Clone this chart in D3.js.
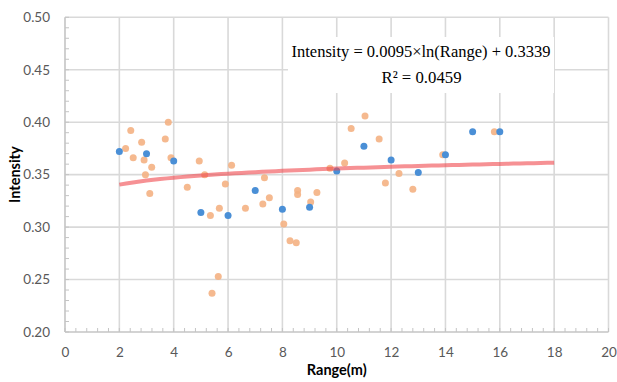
<!DOCTYPE html>
<html>
<head>
<meta charset="utf-8">
<script src="https://cdn.jsdelivr.net/npm/d3@7"></script>
<style>
  html, body { margin: 0; padding: 0; background: #fff; }
  svg { display: block; }
</style>
</head>
<body>
<svg id="chart" width="617" height="382"></svg>
<script>
// ---- data ----
const blueRange = [2, 3, 4, 5, 6, 7, 8, 9, 10, 11, 12, 13, 14, 15, 16];
const blueIntensity = [0.372, 0.370, 0.363, 0.314, 0.311, 0.335, 0.317, 0.319, 0.3535, 0.377, 0.364, 0.352, 0.369, 0.391, 0.391];

const orangeRange = [2.23, 2.42, 2.51, 2.82, 2.91, 2.96, 3.12, 3.19, 3.69, 3.80, 3.90, 4.50, 4.94, 5.14, 5.35, 5.41, 5.64, 5.68, 5.90, 6.13, 6.64, 7.28, 7.34, 7.52, 8.05, 8.28, 8.51, 8.56, 8.56, 9.04, 9.27, 9.75, 10.29, 10.53, 11.04, 11.56, 11.79, 12.29, 12.80, 13.90, 15.80];
const orangeIntensity = [0.375, 0.392, 0.366, 0.381, 0.364, 0.350, 0.332, 0.357, 0.384, 0.400, 0.366, 0.338, 0.363, 0.350, 0.311, 0.237, 0.253, 0.318, 0.341, 0.359, 0.318, 0.322, 0.347, 0.328, 0.303, 0.287, 0.285, 0.335, 0.331, 0.324, 0.333, 0.356, 0.361, 0.394, 0.406, 0.384, 0.342, 0.351, 0.336, 0.369, 0.391];

// logarithmic trendline as printed on the chart
const trendCoef = [0.0095, 0.3339];
const trendSpan = [2, 18];
const equationLines = ["Intensity = 0.0095×ln(Range) + 0.3339", "R² = 0.0459"];

const xTicks = [0, 2, 4, 6, 8, 10, 12, 14, 16, 18, 20];
const yTicks = [0.20, 0.25, 0.30, 0.35, 0.40, 0.45, 0.50];
const xTitle = "Range(m)";
const yTitle = "Intensity";

// ---- layout ----
const svg = d3.select("#chart");
const x = d3.scaleLinear().domain([0, 20]).range([65, 608.5]);
const y = d3.scaleLinear().domain([0.2, 0.5]).range([332, 17.3]);

const gridColor = "#d9d9d9";
const axisColor = "#c4c4c4";
const labelFont = "Lato, 'Open Sans', sans-serif";

// gridlines
svg.append("g").selectAll("line.v").data(xTicks.filter(d => d > 0)).join("line")
  .attr("x1", d => x(d)).attr("x2", d => x(d))
  .attr("y1", y(0.5)).attr("y2", y(0.2))
  .attr("stroke", gridColor).attr("stroke-width", 1.6);
svg.append("g").selectAll("line.h").data(yTicks.filter(d => d > 0.2)).join("line")
  .attr("x1", x(0)).attr("x2", x(20))
  .attr("y1", d => y(d)).attr("y2", d => y(d))
  .attr("stroke", gridColor).attr("stroke-width", 1.6);

// minor ticks (inside)
const yMinor = d3.range(0.20, 0.5001, 0.01);
svg.append("g").selectAll("line").data(yMinor).join("line")
  .attr("x1", x(0)).attr("x2", x(0) + 4)
  .attr("y1", d => y(d)).attr("y2", d => y(d))
  .attr("stroke", axisColor).attr("stroke-width", 1);
const xMinor = d3.range(0, 20.001, 0.4);
svg.append("g").selectAll("line").data(xMinor).join("line")
  .attr("x1", d => x(d)).attr("x2", d => x(d))
  .attr("y1", y(0.2)).attr("y2", y(0.2) - 4)
  .attr("stroke", axisColor).attr("stroke-width", 1);

// axis lines
svg.append("line").attr("x1", x(0)).attr("x2", x(0)).attr("y1", y(0.5)).attr("y2", y(0.2))
  .attr("stroke", axisColor).attr("stroke-width", 1.6);
svg.append("line").attr("x1", x(0)).attr("x2", x(20)).attr("y1", y(0.2)).attr("y2", y(0.2))
  .attr("stroke", axisColor).attr("stroke-width", 1.6);

// tick labels via d3 axes
const xAxis = svg.append("g").attr("transform", `translate(0,${y(0.2)})`)
  .call(d3.axisBottom(x).tickValues(xTicks).tickSize(0).tickPadding(15).tickFormat(d3.format("d")));
const yAxis = svg.append("g").attr("transform", `translate(${x(0)},0)`)
  .call(d3.axisLeft(y).tickValues(yTicks).tickSize(0).tickPadding(15).tickFormat(d3.format(".2f")));
[xAxis, yAxis].forEach(g => {
  g.select(".domain").remove();
  g.selectAll("text").attr("fill", "#595959").style("font-family", labelFont).style("font-size", "13.5px");
});

// axis titles
svg.append("text").attr("x", x(10)).attr("y", 375).attr("text-anchor", "middle")
  .style("font-family", labelFont).style("font-size", "14.5px").style("font-weight", "bold")
  .attr("fill", "#000").text(xTitle);
svg.append("text").attr("transform", `translate(19.5,${y(0.35)}) rotate(-90)`).attr("text-anchor", "middle")
  .style("font-family", labelFont).style("font-size", "14.5px").style("font-weight", "bold")
  .attr("fill", "#000").text(yTitle);

// points
svg.append("g").selectAll("circle").data(orangeRange.map((r, i) => [r, orangeIntensity[i]])).join("circle")
  .attr("cx", d => x(d[0])).attr("cy", d => y(d[1])).attr("r", 3.5)
  .attr("fill", "#f4b183").attr("fill-opacity", 0.9);
svg.append("g").selectAll("circle").data(blueRange.map((r, i) => [r, blueIntensity[i]])).join("circle")
  .attr("cx", d => x(d[0])).attr("cy", d => y(d[1])).attr("r", 3.5)
  .attr("fill", "#4a8fd6");

// trendline
const trendPts = d3.range(trendSpan[0], trendSpan[1] + 0.001, 0.25).map(r => [r, trendCoef[0] * Math.log(r) + trendCoef[1]]);
svg.append("path").datum(trendPts)
  .attr("d", d3.line().x(d => x(d[0])).y(d => y(d[1])))
  .attr("fill", "none").attr("stroke", "#f0474d").attr("stroke-opacity", 0.6)
  .attr("stroke-width", 4).attr("stroke-linecap", "butt");

// equation label
svg.append("rect").attr("x", 288).attr("y", 37).attr("width", 266).attr("height", 56).attr("fill", "#fff");
const eq = svg.append("g").style("font-family", "'Liberation Serif', 'DejaVu Serif', serif").style("font-size", "17px").attr("fill", "#000");
eq.append("text").attr("x", 421).attr("y", 57).attr("text-anchor", "middle")
  .attr("textLength", 259).attr("lengthAdjust", "spacingAndGlyphs").text(equationLines[0]);
eq.append("text").attr("x", 421.5).attr("y", 83).attr("text-anchor", "middle")
  .attr("textLength", 80).attr("lengthAdjust", "spacingAndGlyphs").text(equationLines[1]);
</script>
</body>
</html>
